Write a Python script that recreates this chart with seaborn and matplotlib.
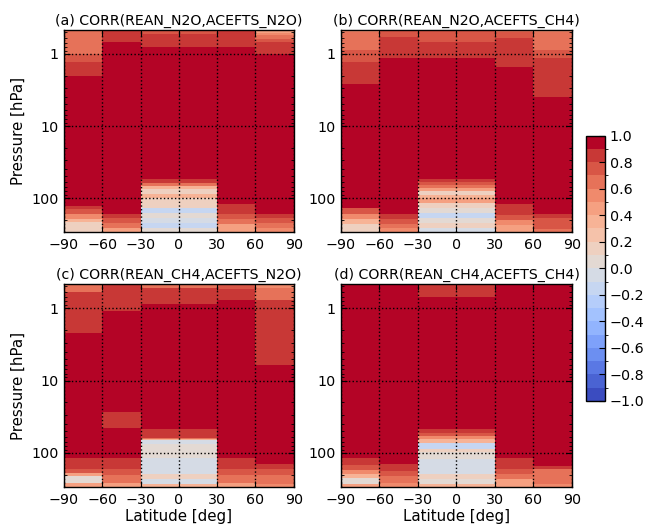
import numpy as np
import matplotlib
matplotlib.use("Agg")
import matplotlib.pyplot as plt
import seaborn as sns
from matplotlib.colors import BoundaryNorm
from matplotlib.ticker import FixedLocator, FixedFormatter, LogLocator, NullFormatter

# latitude bins (the tropical bin spans -30..30)
LAT_EDGES = [-90, -60, -30, 30, 60, 90]
P_TOP = 0.464
P_BOT = 296.0

# each latitude column: list of (pressure at bottom of layer [hPa], correlation), top -> down
CORR_A = [
    [(1.0, 0.65), (1.29, 0.75), (2.0, 0.85), (127, 0.95), (140, 0.85), (165, 0.75),
     (195, 0.55), (215, 0.35), (300, 0.15)],
    [(0.68, 0.85), (165, 0.95), (192, 0.85), (225, 0.75), (263, 0.65), (300, 0.45)],
    [(0.53, 0.75), (0.79, 0.85), (55, 0.95), (62, 0.85), (68, 0.65), (75, 0.35),
     (88, 0.15), (101, 0.35), (139, 0.15), (164, -0.15), (192, 0.05), (225, -0.05),
     (263, -0.15), (300, 0.05)],
    [(0.79, 0.85), (121, 0.95), (168, 0.85), (195, 0.75), (232, 0.65), (300, 0.45)],
    [(0.505, 0.45), (0.55, 0.55), (0.61, 0.65), (0.68, 0.75), (1.0, 0.85), (165, 0.95),
     (192, 0.85), (225, 0.75), (263, 0.65), (300, 0.55)],
]
CORR_B = [
    [(0.5, 0.55), (0.88, 0.65), (1.28, 0.75), (2.6, 0.85), (139, 0.95), (168, 0.75),
     (195, 0.55), (232, 0.35), (300, 0.15)],
    [(0.59, 0.75), (1.15, 0.85), (168, 0.95), (195, 0.85), (232, 0.75), (263, 0.65),
     (300, 0.55)],
    [(0.675, 0.75), (1.15, 0.85), (54.5, 0.95), (59, 0.85), (65, 0.75), (72, 0.65),
     (80, 0.45), (90, 0.15), (101, 0.35), (118, 0.45), (139, 0.15), (164, 0.05),
     (192, -0.15), (225, 0.05), (263, 0.15), (300, -0.05)],
    [(0.5, 0.65), (0.6, 0.75), (1.5, 0.85), (121, 0.95), (172, 0.85), (200, 0.75),
     (240, 0.55), (300, 0.45)],
    [(0.5, 0.55), (0.88, 0.65), (1.15, 0.75), (3.9, 0.85), (168, 0.95), (190, 0.85),
     (270, 0.75), (300, 0.65)],
]
CORR_C = [
    [(0.59, 0.65), (2.22, 0.85), (119, 0.95), (166, 0.85), (190, 0.75), (206, 0.45),
     (260, 0.05), (300, 0.45)],
    [(1.11, 0.85), (27.3, 0.95), (45.6, 0.85), (119, 0.95), (167, 0.85), (202, 0.75),
     (256, 0.65), (300, 0.45)],
    [(0.53, 0.65), (0.87, 0.85), (46, 0.95), (63, 0.85), (65, 0.65), (67, 0.35),
     (75, -0.05), (119, 0.05), (195, -0.05), (229, 0.15), (269, -0.05), (300, 0.35)],
    [(0.55, 0.75), (0.77, 0.85), (119, 0.95), (167, 0.85), (202, 0.75), (256, 0.65),
     (300, 0.45)],
    [(0.53, 0.55), (0.77, 0.65), (6.0, 0.85), (142, 0.95), (167, 0.85), (202, 0.75),
     (269, 0.65), (300, 0.55)],
]
CORR_D = [
    [(119, 0.95), (147, 0.85), (170, 0.75), (195, 0.55), (225, 0.35), (269, 0.05),
     (300, 0.45)],
    [(142, 0.95), (180, 0.85), (211, 0.75), (256, 0.65), (300, 0.55)],
    [(0.69, 0.85), (46, 0.95), (53, 0.85), (59, 0.75), (65, 0.55), (73, 0.35),
     (88, -0.15), (98, 0.15), (121, 0.05), (195, -0.05), (229, 0.15), (269, 0.05),
     (300, 0.35)],
    [(119, 0.95), (167, 0.85), (195, 0.75), (229, 0.65), (300, 0.45)],
    [(150, 0.95), (167, 0.85), (269, 0.65), (300, 0.55)],
]

TITLES = [
    "(a) CORR(REAN_N2O,ACEFTS_N2O)",
    "(b) CORR(REAN_N2O,ACEFTS_CH4)",
    "(c) CORR(REAN_CH4,ACEFTS_N2O)",
    "(d) CORR(REAN_CH4,ACEFTS_CH4)",
]
X_TICKS = [-90, -60, -30, 0, 30, 60, 90]
Y_TICKS = [1, 10, 100]
CB_TICKS = [-1.0, -0.8, -0.6, -0.4, -0.2, 0.0, 0.2, 0.4, 0.6, 0.8, 1.0]

sns.set_style("white")
plt.rcParams["font.family"] = ["DejaVu Sans"]
plt.rcParams.update({
    "text.color": "black",
    "axes.labelcolor": "black",
    "xtick.color": "black",
    "ytick.color": "black",
    "axes.axisbelow": False,
})

cmap = sns.color_palette("coolwarm", as_cmap=True)
levels = np.linspace(-1, 1, 21)
norm = BoundaryNorm(levels, cmap.N)

fig = plt.figure(figsize=(6.47, 5.26), dpi=100)
positions = [
    [0.099, 0.559, 0.355, 0.384],
    [0.527, 0.559, 0.357, 0.384],
    [0.099, 0.074, 0.355, 0.386],
    [0.527, 0.074, 0.357, 0.386],
]

mesh = None
for k, (data, title) in enumerate(zip([CORR_A, CORR_B, CORR_C, CORR_D], TITLES)):
    ax = fig.add_axes(positions[k])
    for j, prof in enumerate(data):
        yedges = [P_TOP] + [p for p, _ in prof]
        vals = np.array([v for _, v in prof]).reshape(-1, 1)
        mesh = ax.pcolormesh([LAT_EDGES[j], LAT_EDGES[j + 1]], yedges, vals,
                             cmap=cmap, norm=norm, shading="flat")
    ax.set_yscale("log")
    ax.set_ylim(P_BOT, P_TOP)
    ax.set_xlim(-90, 90)
    ax.set_xticks(X_TICKS)
    ax.set_xticklabels([str(t).replace("-", "\u2212") for t in X_TICKS])
    ax.yaxis.set_major_locator(FixedLocator(Y_TICKS))
    ax.yaxis.set_major_formatter(FixedFormatter([str(t) for t in Y_TICKS]))
    ax.yaxis.set_minor_locator(LogLocator(base=10, subs=np.arange(2, 10)))
    ax.yaxis.set_minor_formatter(NullFormatter())
    ax.set_axisbelow(False)
    ax.grid(True, which="major", color="black", linestyle=":", linewidth=1.0)
    ax.tick_params(which="both", direction="in", top=True, right=True,
                   left=True, bottom=True, labelsize=10.3, colors="black")
    ax.tick_params(which="major", length=4, width=0.8, pad=4)
    ax.tick_params(which="minor", length=2, width=0.6)
    ax.tick_params(axis="x", which="minor", bottom=False, top=False)
    for s in ax.spines.values():
        s.set_color("black")
        s.set_linewidth(1.0)
        s.set_zorder(3)
    ax.set_title(title, fontsize=10.2, pad=4, color="black")
    if k % 2 == 0:
        ax.set_ylabel("Pressure [hPa]", fontsize=10.8)
    if k >= 2:
        ax.set_xlabel("Latitude [deg]", fontsize=10.8, labelpad=2)

cax = fig.add_axes([0.906, 0.238, 0.029, 0.504])
cb = fig.colorbar(mesh, cax=cax, ticks=CB_TICKS, boundaries=levels)
cb.ax.set_yticklabels([f"{t:.1f}".replace("-", "\u2212") for t in CB_TICKS])
cb.ax.tick_params(labelsize=10.3, direction="in", length=4, colors="black", right=True)
cb.outline.set_edgecolor("black")
cb.outline.set_linewidth(1.0)

fig.savefig("out.png", dpi=100)
